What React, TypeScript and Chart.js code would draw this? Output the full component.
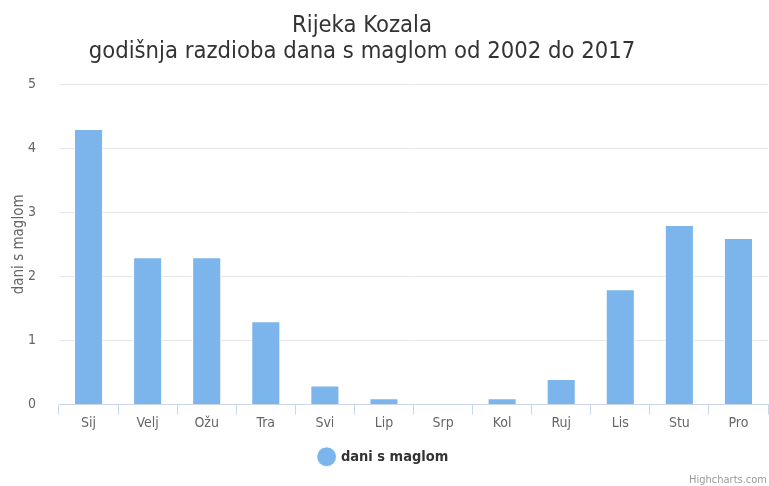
import React, { useEffect, useRef } from "react";
import { Chart, registerables } from "chart.js";

Chart.register(...registerables);

const categories = ["Sij", "Velj", "Ožu", "Tra", "Svi", "Lip", "Srp", "Kol", "Ruj", "Lis", "Stu", "Pro"];
const seriesName = "dani s maglom";
const values = [4.3, 2.3, 2.3, 1.3, 0.3, 0.1, 0, 0.1, 0.4, 1.8, 2.8, 2.6];
const titleLines = ["Rijeka Kozala", "godišnja razdioba dana s maglom od 2002 do 2017"];
const yTitle = "dani s maglom";
const credits = "Highcharts.com";

const FONT = "'DejaVu Sans Condensed', 'DejaVu Sans', sans-serif";

const extrasPlugin = {
  id: "extras",
  afterDraw(chart: any) {
    const ctx = chart.ctx;
    ctx.save();
    ctx.font = `23.6px ${FONT}`;
    ctx.fillStyle = "#333333";
    ctx.textAlign = "center";
    ctx.textBaseline = "alphabetic";
    ctx.fillText(titleLines[0], 362, 32);
    ctx.fillText(titleLines[1], 362, 58);
    ctx.font = `11px ${FONT}`;
    ctx.fillStyle = "#999999";
    ctx.textAlign = "right";
    ctx.fillText(credits, chart.width - 2, chart.height - 3);
    ctx.restore();
  },
};

export default function App() {
  const ref = useRef<HTMLCanvasElement | null>(null);
  useEffect(() => {
    document.body.style.margin = "0";
    const chart = new Chart(ref.current!, {
      type: "bar",
      data: {
        labels: categories,
        datasets: [
          {
            label: seriesName,
            data: values,
            backgroundColor: "#7cb5ec",
            borderColor: "#ffffff",
            borderWidth: 1,
            categoryPercentage: 0.6,
            barPercentage: 0.82,
          },
        ],
      },
      options: {
        animation: false,
        responsive: false,
        maintainAspectRatio: false,
        layout: { padding: { left: 0, right: 1, top: 84, bottom: 12 } },
        plugins: {
          title: { display: false },
          legend: {
            display: true,
            position: "bottom",
            labels: {
              usePointStyle: true,
              pointStyle: "circle",
              boxWidth: 14,
              boxHeight: 14,
              color: "#333333",
              font: { family: FONT, size: 14.5, weight: "bold" },
              padding: 15,
            },
          },
          tooltip: { enabled: false },
        },
        scales: {
          x: {
            offset: true,
            grid: {
              offset: true,
              drawOnChartArea: false,
              drawTicks: true,
              tickLength: 10,
              color: "#ccd6eb",
            },
            border: { color: "#ccd6eb" },
            ticks: {
              color: "#666666",
              font: { family: FONT, size: 14 },
              padding: 0,
            },
            afterFit(scale: any) {
              scale.height += 3;
            },
          },
          y: {
            min: 0,
            max: 5,
            ticks: {
              stepSize: 1,
              color: "#666666",
              font: { family: FONT, size: 14 },
              padding: 23,
            },
            grid: { color: "#e6e6e6", drawTicks: false },
            border: { display: false },
            title: {
              display: true,
              text: yTitle,
              color: "#666666",
              font: { family: FONT, size: 15 },
              padding: { top: 10, bottom: 0 },
            },
            afterFit(scale: any) {
              scale.width = 59;
            },
          },
        },
      },
      plugins: [extrasPlugin],
    });
    return () => chart.destroy();
  }, []);
  return <canvas ref={ref} width={769} height={486} style={{ display: "block" }} />;
}
